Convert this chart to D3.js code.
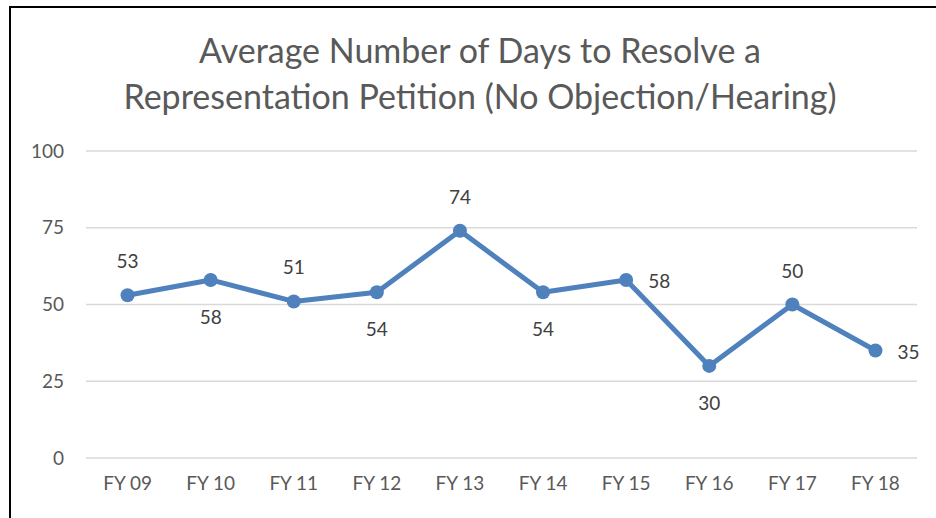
<!DOCTYPE html>
<html>
<head>
<meta charset="utf-8">
<script src="https://cdn.jsdelivr.net/npm/d3@7"></script>
<style>
  body { margin: 0; background: #fff; }
  svg text { font-family: Lato, "Open Sans", sans-serif; }
</style>
</head>
<body>
<svg id="chart" width="936" height="518"></svg>
<script>
// Chart data
const years = ["FY 09", "FY 10", "FY 11", "FY 12", "FY 13", "FY 14", "FY 15", "FY 16", "FY 17", "FY 18"];
const days = [53, 58, 51, 54, 74, 54, 58, 30, 50, 35];
// where each data label sits relative to its point
const labelPos = ["above", "below", "above", "below", "above", "below", "right", "below", "above", "right"];
const yTicks = [0, 25, 50, 75, 100];
const titleLines = ["Average Number of Days to Resolve a", "Representation Petition (No Objection/Hearing)"];

const svg = d3.select("#chart");

// outer frame (only left and top edges are in view)
svg.append("rect")
    .attr("x", 10).attr("y", 7)
    .attr("width", 940).attr("height", 520)
    .attr("fill", "none")
    .attr("stroke", "#000")
    .attr("stroke-width", 2);

// Title
svg.append("g").selectAll("text")
    .data(titleLines)
    .enter().append("text")
    .attr("x", 480)
    .attr("y", (d, i) => 63 + i * 46)
    .attr("text-anchor", "middle")
    .attr("fill", "#595959")
    .style("font-size", "34px")
    .text(d => d);

// scales
const x = d3.scaleBand().domain(years).range([86, 917]);
const y = d3.scaleLinear().domain([0, 100]).range([458, 151]);

// gridlines
svg.append("g").selectAll("line")
    .data(yTicks)
    .enter().append("line")
    .attr("x1", 86).attr("x2", 917)
    .attr("y1", d => y(d)).attr("y2", d => y(d))
    .attr("stroke", "#d9d9d9")
    .attr("stroke-width", 1.5);

// y axis labels
const yAxis = svg.append("g")
    .attr("transform", "translate(64,0)")
    .call(d3.axisLeft(y).tickValues(yTicks).tickSize(0).tickPadding(0));
yAxis.select(".domain").remove();
yAxis.selectAll("text")
    .attr("fill", "#595959")
    .style("font-size", "19px")
    .style("font-family", "Lato, sans-serif");

// x axis labels
const xAxis = svg.append("g")
    .attr("transform", "translate(0,476)")
    .call(d3.axisBottom(x).tickSize(0).tickPadding(0));
xAxis.select(".domain").remove();
xAxis.selectAll("text")
    .attr("fill", "#595959")
    .style("font-size", "19px")
    .style("font-family", "Lato, sans-serif");

const cx = d => x(d) + x.bandwidth() / 2;

// line
const line = d3.line()
    .x((d, i) => cx(years[i]))
    .y(d => y(d));

svg.append("path")
    .datum(days)
    .attr("d", line)
    .attr("fill", "none")
    .attr("stroke", "#4f81bd")
    .attr("stroke-width", 5)
    .attr("stroke-linejoin", "round");

// markers
svg.append("g").selectAll("circle")
    .data(days)
    .enter().append("circle")
    .attr("cx", (d, i) => cx(years[i]))
    .attr("cy", d => y(d))
    .attr("r", 7)
    .attr("fill", "#4f81bd");

// data labels
svg.append("g").selectAll("text")
    .data(days)
    .enter().append("text")
    .attr("x", (d, i) => {
        const px = cx(years[i]);
        return labelPos[i] === "right" ? px + 22 : px;
    })
    .attr("y", (d, i) => {
        const py = y(d);
        if (labelPos[i] === "above") return py - 27;
        if (labelPos[i] === "below") return py + 44;
        return py + 8;
    })
    .attr("text-anchor", (d, i) => labelPos[i] === "right" ? "start" : "middle")
    .attr("fill", "#404040")
    .style("font-size", "19px")
    .text(d => d);
</script>
</body>
</html>
